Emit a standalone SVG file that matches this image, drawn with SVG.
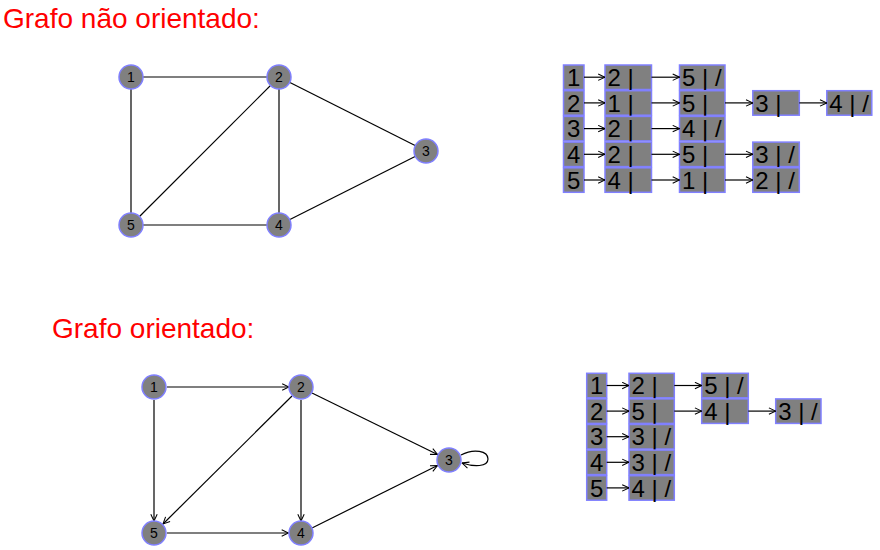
<svg xmlns="http://www.w3.org/2000/svg" width="880" height="550" viewBox="0 0 880 550">
<style>
.title{font-family:"Liberation Sans",Arial,sans-serif;font-size:28px;fill:#ff0000}
.node circle{fill:#808080;stroke:#8080ff;stroke-width:1.5}
.node text{font-family:"Liberation Sans",Arial,sans-serif;font-size:14px;fill:#000;text-anchor:middle}
.edge{stroke:#000;stroke-width:1.2;fill:none}
.arr{stroke:#000;stroke-width:1.2;fill:none;marker-end:url(#ah)}
.box rect{fill:#808080;stroke:#8080ff;stroke-width:1.5}
.box text{font-family:"Liberation Sans",Arial,sans-serif;font-size:24px;fill:#000}
.idx text{text-anchor:middle}
</style>
<defs>
<marker id="ah" viewBox="0 0 10 10" refX="9.5" refY="5" markerWidth="8" markerHeight="8" orient="auto" markerUnits="userSpaceOnUse">
<path d="M1,1 L9.5,5 L1,9" fill="none" stroke="#000" stroke-width="1.3"/>
</marker>
</defs>
<rect width="880" height="550" fill="#fff"/>
<text class="title" x="3" y="28">Grafo não orientado:</text>
<text class="title" x="52" y="338">Grafo orientado:</text>

<g id="edges-top">
<line class="edge" x1="131" y1="77" x2="279" y2="77"/>
<line class="edge" x1="131" y1="77" x2="131" y2="225"/>
<line class="edge" x1="279" y1="77" x2="131" y2="225"/>
<line class="edge" x1="279" y1="77" x2="279" y2="225"/>
<line class="edge" x1="279" y1="77" x2="426" y2="151"/>
<line class="edge" x1="426" y1="151" x2="279" y2="225"/>
<line class="edge" x1="131" y1="225" x2="279" y2="225"/>
</g>
<g id="t1" class="node"><circle cx="131" cy="77" r="12"/><text x="131" y="82">1</text></g>
<g id="t2" class="node"><circle cx="279" cy="77" r="12"/><text x="279" y="82">2</text></g>
<g id="t3" class="node"><circle cx="426" cy="151" r="12"/><text x="426" y="156">3</text></g>
<g id="t4" class="node"><circle cx="279" cy="225" r="12"/><text x="279" y="230">4</text></g>
<g id="t5" class="node"><circle cx="131" cy="225" r="12"/><text x="131" y="230">5</text></g>

<g id="edges-bottom">
<line class="arr" x1="167" y1="387" x2="289" y2="387"/>
<line class="arr" x1="154" y1="400" x2="154" y2="521"/>
<line class="arr" x1="292" y1="396" x2="163" y2="524"/>
<line class="arr" x1="301" y1="400" x2="301" y2="521"/>
<line class="arr" x1="312" y1="393" x2="437.5" y2="454.5"/>
<line class="arr" x1="312" y1="528" x2="437.5" y2="465.5"/>
<line class="arr" x1="167" y1="533" x2="288.5" y2="533"/>
<path class="arr" d="M461,455 C474,448 488,451 488,459 C488,467 474,467 462,463"/>
</g>
<g id="b1" class="node"><circle cx="154" cy="387" r="12"/><text x="154" y="392">1</text></g>
<g id="b2" class="node"><circle cx="301" cy="387" r="12"/><text x="301" y="392">2</text></g>
<g id="b3" class="node"><circle cx="449" cy="460" r="12"/><text x="449" y="465">3</text></g>
<g id="b4" class="node"><circle cx="301" cy="533" r="12"/><text x="301" y="538">4</text></g>
<g id="b5" class="node"><circle cx="154" cy="533" r="12"/><text x="154" y="538">5</text></g>

<!-- top adjacency list -->
<g id="list-top">
<g id="lt-idx" class="box idx">
<rect x="563.5" y="65" width="20.5" height="24.5"/><text x="573.8" y="85.8">1</text>
<rect x="563.5" y="90.7" width="20.5" height="24.5"/><text x="573.8" y="111.5">2</text>
<rect x="563.5" y="116.4" width="20.5" height="24.5"/><text x="573.8" y="137.2">3</text>
<rect x="563.5" y="142.1" width="20.5" height="24.5"/><text x="573.8" y="162.9">4</text>
<rect x="563.5" y="167.8" width="20.5" height="24.5"/><text x="573.8" y="188.6">5</text>
</g>
<g id="lt-c2" class="box">
<rect x="605" y="65" width="46.5" height="24.5"/><text x="607.5" y="85.8">2 |</text>
<rect x="605" y="90.7" width="46.5" height="24.5"/><text x="607.5" y="111.5">1 |</text>
<rect x="605" y="116.4" width="46.5" height="24.5"/><text x="607.5" y="137.2">2 |</text>
<rect x="605" y="142.1" width="46.5" height="24.5"/><text x="607.5" y="162.9">2 |</text>
<rect x="605" y="167.8" width="46.5" height="24.5"/><text x="607.5" y="188.6">4 |</text>
</g>
<g id="lt-c3" class="box">
<rect x="679.5" y="65" width="45.5" height="24.5"/><text x="682" y="85.8">5 | /</text>
<rect x="679.5" y="90.7" width="45.5" height="24.5"/><text x="682" y="111.5">5 |</text>
<rect x="679.5" y="116.4" width="45.5" height="24.5"/><text x="682" y="137.2">4 | /</text>
<rect x="679.5" y="142.1" width="45.5" height="24.5"/><text x="682" y="162.9">5 |</text>
<rect x="679.5" y="167.8" width="45.5" height="24.5"/><text x="682" y="188.6">1 |</text>
</g>
<g id="lt-c4" class="box">
<rect x="752.8" y="90.7" width="46.5" height="24.5"/><text x="755.3" y="111.5">3 |</text>
<rect x="752.8" y="142.1" width="46.5" height="24.5"/><text x="755.3" y="162.9">3 | /</text>
<rect x="752.8" y="167.8" width="46.5" height="24.5"/><text x="755.3" y="188.6">2 | /</text>
</g>
<g id="lt-c5" class="box">
<rect x="826.8" y="90.7" width="45" height="24.5"/><text x="829.3" y="111.5">4 | /</text>
</g>
</g>
<g id="list-top-arrows">
<line class="arr" x1="584" y1="77.2" x2="605" y2="77.2"/>
<line class="arr" x1="584" y1="102.9" x2="605" y2="102.9"/>
<line class="arr" x1="584" y1="128.6" x2="605" y2="128.6"/>
<line class="arr" x1="584" y1="154.3" x2="605" y2="154.3"/>
<line class="arr" x1="584" y1="180" x2="605" y2="180"/>
<line class="arr" x1="651.5" y1="77.2" x2="679.5" y2="77.2"/>
<line class="arr" x1="651.5" y1="102.9" x2="679.5" y2="102.9"/>
<line class="arr" x1="651.5" y1="128.6" x2="679.5" y2="128.6"/>
<line class="arr" x1="651.5" y1="154.3" x2="679.5" y2="154.3"/>
<line class="arr" x1="651.5" y1="180" x2="679.5" y2="180"/>
<line class="arr" x1="725" y1="102.9" x2="752.8" y2="102.9"/>
<line class="arr" x1="725" y1="154.3" x2="752.8" y2="154.3"/>
<line class="arr" x1="725" y1="180" x2="752.8" y2="180"/>
<line class="arr" x1="799.3" y1="102.9" x2="826.8" y2="102.9"/>
</g>

<!-- bottom adjacency list -->
<g id="list-bottom">
<g id="lb-idx" class="box idx">
<rect x="586.7" y="373.3" width="20" height="24.5"/><text x="596.7" y="394.1">1</text>
<rect x="586.7" y="398.9" width="20" height="24.5"/><text x="596.7" y="419.7">2</text>
<rect x="586.7" y="424.5" width="20" height="24.5"/><text x="596.7" y="445.3">3</text>
<rect x="586.7" y="450.1" width="20" height="24.5"/><text x="596.7" y="470.9">4</text>
<rect x="586.7" y="475.7" width="20" height="24.5"/><text x="596.7" y="496.5">5</text>
</g>
<g id="lb-c2" class="box">
<rect x="629" y="373.3" width="45.3" height="24.5"/><text x="631.5" y="394.1">2 |</text>
<rect x="629" y="398.9" width="45.3" height="24.5"/><text x="631.5" y="419.7">5 |</text>
<rect x="629" y="424.5" width="45.3" height="24.5"/><text x="631.5" y="445.3">3 | /</text>
<rect x="629" y="450.1" width="45.3" height="24.5"/><text x="631.5" y="470.9">3 | /</text>
<rect x="629" y="475.7" width="45.3" height="24.5"/><text x="631.5" y="496.5">4 | /</text>
</g>
<g id="lb-c3" class="box">
<rect x="701.7" y="373.3" width="46.6" height="24.5"/><text x="704.2" y="394.1">5 | /</text>
<rect x="701.7" y="398.9" width="46.6" height="24.5"/><text x="704.2" y="419.7">4 |</text>
</g>
<g id="lb-c4" class="box">
<rect x="775.7" y="398.9" width="45.3" height="24.5"/><text x="778.2" y="419.7">3 | /</text>
</g>
</g>
<g id="list-bottom-arrows">
<line class="arr" x1="606.7" y1="385.5" x2="629" y2="385.5"/>
<line class="arr" x1="606.7" y1="411.1" x2="629" y2="411.1"/>
<line class="arr" x1="606.7" y1="436.7" x2="629" y2="436.7"/>
<line class="arr" x1="606.7" y1="462.3" x2="629" y2="462.3"/>
<line class="arr" x1="606.7" y1="487.9" x2="629" y2="487.9"/>
<line class="arr" x1="674.3" y1="385.5" x2="701.7" y2="385.5"/>
<line class="arr" x1="674.3" y1="411.1" x2="701.7" y2="411.1"/>
<line class="arr" x1="748.3" y1="411.1" x2="775.7" y2="411.1"/>
</g>
</svg>
